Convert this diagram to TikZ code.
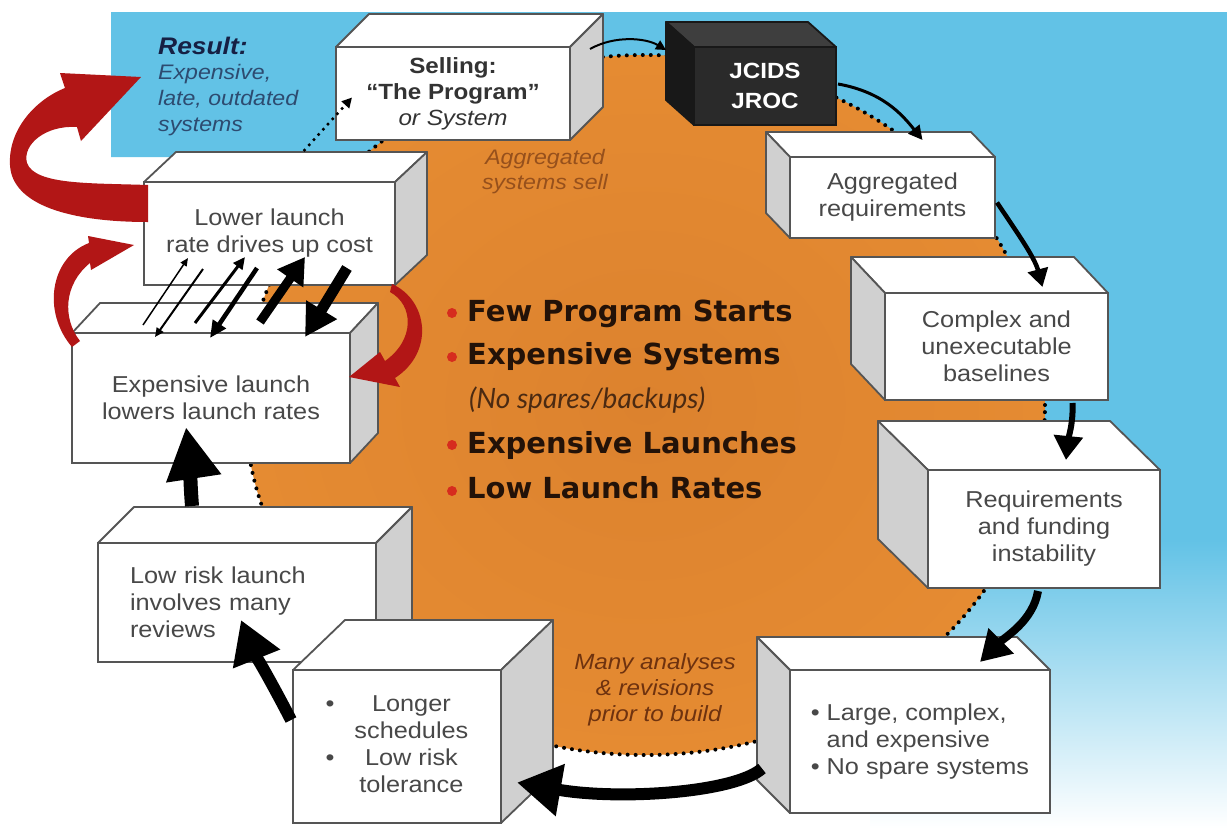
\documentclass[tikz,border=0pt]{standalone}
\usepackage{fontspec}
\setmainfont{Liberation Sans}[FakeStretch=1.1]
\newfontfamily\listfont{DejaVu Sans}
\newfontfamily\itfont{Lato}
\usetikzlibrary{arrows.meta,calc}
\definecolor{skyb}{RGB}{98,194,230}
\definecolor{orIn}{RGB}{220,130,46}
\definecolor{orMid}{RGB}{229,139,50}
\definecolor{orOut}{RGB}{242,154,62}
\definecolor{boxline}{RGB}{85,85,85}
\definecolor{sidegray}{RGB}{208,208,208}
\definecolor{boxtext}{RGB}{72,72,72}
\definecolor{redarr}{RGB}{178,22,22}
\definecolor{navy}{RGB}{22,32,68}
\definecolor{resblue}{RGB}{45,75,112}
\definecolor{brownit}{RGB}{150,80,28}
\definecolor{brownit2}{RGB}{110,50,15}
\definecolor{bulletred}{RGB}{214,44,30}
\definecolor{listtext}{RGB}{35,18,8}
\definecolor{itbrown}{RGB}{75,42,18}
\definecolor{darkfront}{RGB}{42,42,42}
\definecolor{darktop}{RGB}{62,62,62}
\definecolor{darkside}{RGB}{24,24,24}
\pgfdeclareradialshading{orshade}{\pgfpoint{0bp}{0bp}}{color(0bp)=(orIn); color(25bp)=(orMid); color(50bp)=(orOut)}
\newcommand\cubeR[6]{%
  \filldraw[face, draw=#6, fill=#4] (#1.north west) -- ++(#2,#3) -- ($(#1.north east)+(#2,#3)$) -- (#1.north east) -- cycle;
  \filldraw[face, draw=#6, fill=#5] (#1.north east) -- ++(#2,#3) -- ($(#1.south east)+(#2,#3)$) -- (#1.south east) -- cycle;}
\newcommand\cubeL[6]{%
  \filldraw[face, draw=#6, fill=#4] (#1.north west) -- ++(#2,#3) -- ($(#1.north east)+(#2,#3)$) -- (#1.north east) -- cycle;
  \filldraw[face, draw=#6, fill=#5] (#1.north west) -- ++(#2,#3) -- ($(#1.south west)+(#2,#3)$) -- (#1.south west) -- cycle;}
\begin{document}
\begin{tikzpicture}[x=1pt,y=-1pt,
  front/.style={draw=boxline, line width=1.8pt, fill=white, inner sep=0pt, outer sep=0pt,
    align=center, font=\fontsize{23}{27}\selectfont, text=boxtext, anchor=north west},
  face/.style={line width=1.8pt, line join=round},
  dotline/.style={line width=4pt, dash pattern=on 0pt off 8pt, line cap=round},
  redarrow/.style={fill=redarr},
  listitem/.style={anchor=base west, inner sep=0pt, font=\listfont\bfseries\fontsize{29}{29}\selectfont, text=listtext}
]
\useasboundingbox (0,0) rectangle (1227,828);
\fill[white] (0,0) rectangle (1227,828);
% blue background
\fill[skyb] (111,12) -- (1227,12) -- (1227,540) -- (870,540) -- (870,157) -- (111,157) -- cycle;
\shade[top color=skyb, bottom color=white] (870,539) rectangle (1227,828);
% orange circle
\shade[shading=orshade] (645,405) ellipse [x radius=400pt, y radius=350pt];
\draw[dotline] (645,405) ellipse [x radius=400pt, y radius=350pt];

% boxes
\node[front, minimum width=234pt, minimum height=93pt, text=black!80,
  font=\fontsize{22}{26}\selectfont] (sell) at (336,47)
  {\textbf{Selling:}\\\textbf{``The Program''}\\\textit{or System}};
\cubeR{sell}{33}{-33}{white}{sidegray}{boxline}

\node[front, fill=darkfront, draw=darkside, text=white, minimum width=142pt, minimum height=78pt,
  font=\bfseries\fontsize{22}{30}\selectfont] (jcids) at (694,47) {JCIDS\\JROC};
\cubeL{jcids}{-28}{-25}{darktop}{darkside}{darkside}

\node[front, minimum width=205pt, minimum height=81pt] (agg) at (790,157) {Aggregated\\requirements};
\cubeL{agg}{-24}{-25}{white}{sidegray}{boxline}

\node[front, minimum width=223pt, minimum height=107pt] (cplx) at (885,293) {Complex and\\unexecutable\\baselines};
\cubeL{cplx}{-34}{-36}{white}{sidegray}{boxline}

\node[front, minimum width=232pt, minimum height=118pt] (req) at (928,470) {Requirements\\and funding\\instability};
\cubeL{req}{-50}{-49}{white}{sidegray}{boxline}

\node[front, minimum width=260pt, minimum height=143pt, align=left] (large) at (790,670)
  {\textbullet\ Large, complex,\\\phantom{\textbullet\ }and expensive\\\textbullet\ No spare systems};
\cubeL{large}{-33}{-33}{white}{sidegray}{boxline}

\node[front, minimum width=251pt, minimum height=103pt] (lower) at (144,182) {Lower launch\\rate drives up cost};
\cubeR{lower}{32}{-30}{white}{sidegray}{boxline}

\node[front, minimum width=278pt, minimum height=130pt] (explaunch) at (72,333) {Expensive launch\\lowers launch rates};
\cubeR{explaunch}{28}{-30}{white}{sidegray}{boxline}

\node[front, minimum width=278pt, minimum height=119pt, text width=214pt, align=left] (lowrisk) at (98,543)
  {Low risk launch\\involves many\\reviews};
\cubeR{lowrisk}{36}{-36}{white}{sidegray}{boxline}

\node[front, minimum width=208pt, minimum height=153pt] (longer) at (293,670)
  {\begin{tabular}{@{}l@{\hspace{20pt}}c@{}}\textbullet & Longer\\ & schedules\\ \textbullet & Low risk\\ & tolerance\end{tabular}};
\cubeR{longer}{52}{-50}{white}{sidegray}{boxline}

% free texts
\node[anchor=base west, inner sep=0pt, font=\bfseries\itshape\fontsize{24}{28}\selectfont, text=navy] (restitle) at (158,54) {Result:};
\node[anchor=north west, inner sep=0pt, align=left, font=\itshape\fontsize{21}{26}\selectfont, text=resblue] (resbody) at (158,64)
  {Expensive,\\late, outdated\\systems};
\node[align=center, inner sep=0pt, font=\itshape\fontsize{21}{25}\selectfont, text=brownit] (aggsell) at (545,172)
  {Aggregated\\systems sell};
\node[align=center, inner sep=0pt, font=\itshape\fontsize{22}{26}\selectfont, text=brownit2] (many) at (655,690)
  {Many analyses\\\& revisions\\prior to build};

\node[listitem] (l1) at (467,321) {Few Program Starts};
\node[listitem] (l2) at (467,364) {Expensive Systems};
\node[listitem, font=\itfont\itshape\fontsize{28}{28}\selectfont, text=itbrown] (l3) at (469,408) {(No spares/backups)};
\node[listitem] (l4) at (467,453) {Expensive Launches};
\node[listitem] (l5) at (467,498) {Low Launch Rates};
\foreach \yy in {313,357,445,491} \fill[bulletred] (452,\yy) circle[radius=5pt];

% dotted connector
\draw[line width=3.5pt, dash pattern=on 0pt off 7pt, line cap=round, -{Triangle[length=10pt,width=10pt]}]
  ($(lower.north)+(35,-32)$) -- ($(sell.west)+(16,4)$);

% black cycle arrows
\draw[line width=2pt, -{Triangle[length=10pt,width=10pt]}]
  ($(sell.north east)+(20,2)$) .. controls +(25,-14) and +(-20,-12) .. ($(jcids.north west)+(-28,3)$);
\draw[line width=3pt, -{Triangle[length=14pt,width=14pt]}]
  ($(jcids.east)+(2,-2)$) .. controls +(45,8) and +(-20,-25) .. ($(agg.north)+(30,-17)$);
\draw[line width=4.5pt, -{Triangle[length=18pt,width=20pt]}]
  ($(agg.east)+(2,5)$) .. controls +(20,30) and +(-8,-30) .. ($(cplx.north)+(46,-6)$);
\draw[line width=6pt, -{Triangle[length=24pt,width=28pt]}]
  ($(cplx.south)+(76,3)$) .. controls +(1,20) and +(2,-20) .. ($(req.north)+(22,-10)$);
\draw[line width=8pt, -{Triangle[length=30pt,width=34pt]}]
  ($(req.south)+(-6,3)$) .. controls +(-5,30) and +(25,-25) .. ($(large.north)+(60,-8)$);
\draw[line width=12pt, -{Triangle[length=44pt,width=50pt]}]
  ($(large.west)+(-28,27)$) .. controls +(-27,24) and +(103,18) .. ($(longer.east)+(16,36)$);
\draw[line width=12pt, -{Triangle[length=42pt,width=48pt]}]
  ($(longer.north west)+(-2,50)$) .. controls +(-18,-35) and +(12,30) .. ($(lowrisk.south east)+(-135,-42)$);
\draw[line width=14pt, -{Triangle[length=52pt,width=52pt]}]
  ($(lowrisk.north west)+(94,-37)$) .. controls +(-2,-25) and +(3,20) .. ($(explaunch.south)+(-25,-36)$);

% double arrows between launch boxes
\draw[line width=1.5pt, -{Triangle[length=8pt,width=7pt]}] ($(explaunch.north west)+(71,-8)$) -- ($(lower.south west)+(44,-27)$);
\draw[line width=2pt, -{Triangle[length=9pt,width=8pt]}] ($(lower.south west)+(59,-16)$) -- ($(explaunch.north west)+(83,4)$);
\draw[line width=3pt, -{Triangle[length=12pt,width=11pt]}] ($(explaunch.north west)+(123,-10)$) -- ($(lower.south west)+(101,-28)$);
\draw[line width=4.5pt, -{Triangle[length=17pt,width=15pt]}] ($(lower.south west)+(113,-17)$) -- ($(explaunch.north west)+(138,5)$);
\draw[line width=9pt, -{Triangle[length=26pt,width=30pt]}] ($(explaunch.north west)+(188,-11)$) -- ($(lower.south west)+(161,-28)$);
\draw[line width=11pt, -{Triangle[length=32pt,width=34pt]}] ($(lower.south west)+(203,-17)$) -- ($(explaunch.north west)+(233,4)$);

% red curved arrows
\fill[redarrow] (148,185) .. controls (90,183) and (35,185) .. (27,163) .. controls (22,145) and (45,125) .. (77,127)
  -- (81,141) -- (141,77) -- (60,73) -- (65,88)
  .. controls (35,100) and (8,130) .. (10,165) .. controls (12,205) and (70,222) .. (148,222) -- cycle;
\fill[redarrow] (80,341) .. controls (62,318) and (64,284) .. (90,263) -- (91,270) -- (134,245) -- (88,236) -- (89,243)
  .. controls (50,258) and (42,312) .. (72,347) -- cycle;
\fill[redarrow] (392,284) .. controls (428,300) and (435,352) .. (395,378) -- (400,387) -- (349,377) -- (380,352) -- (385,361)
  .. controls (415,340) and (414,305) .. (390,292) -- cycle;
\end{tikzpicture}
\end{document}
